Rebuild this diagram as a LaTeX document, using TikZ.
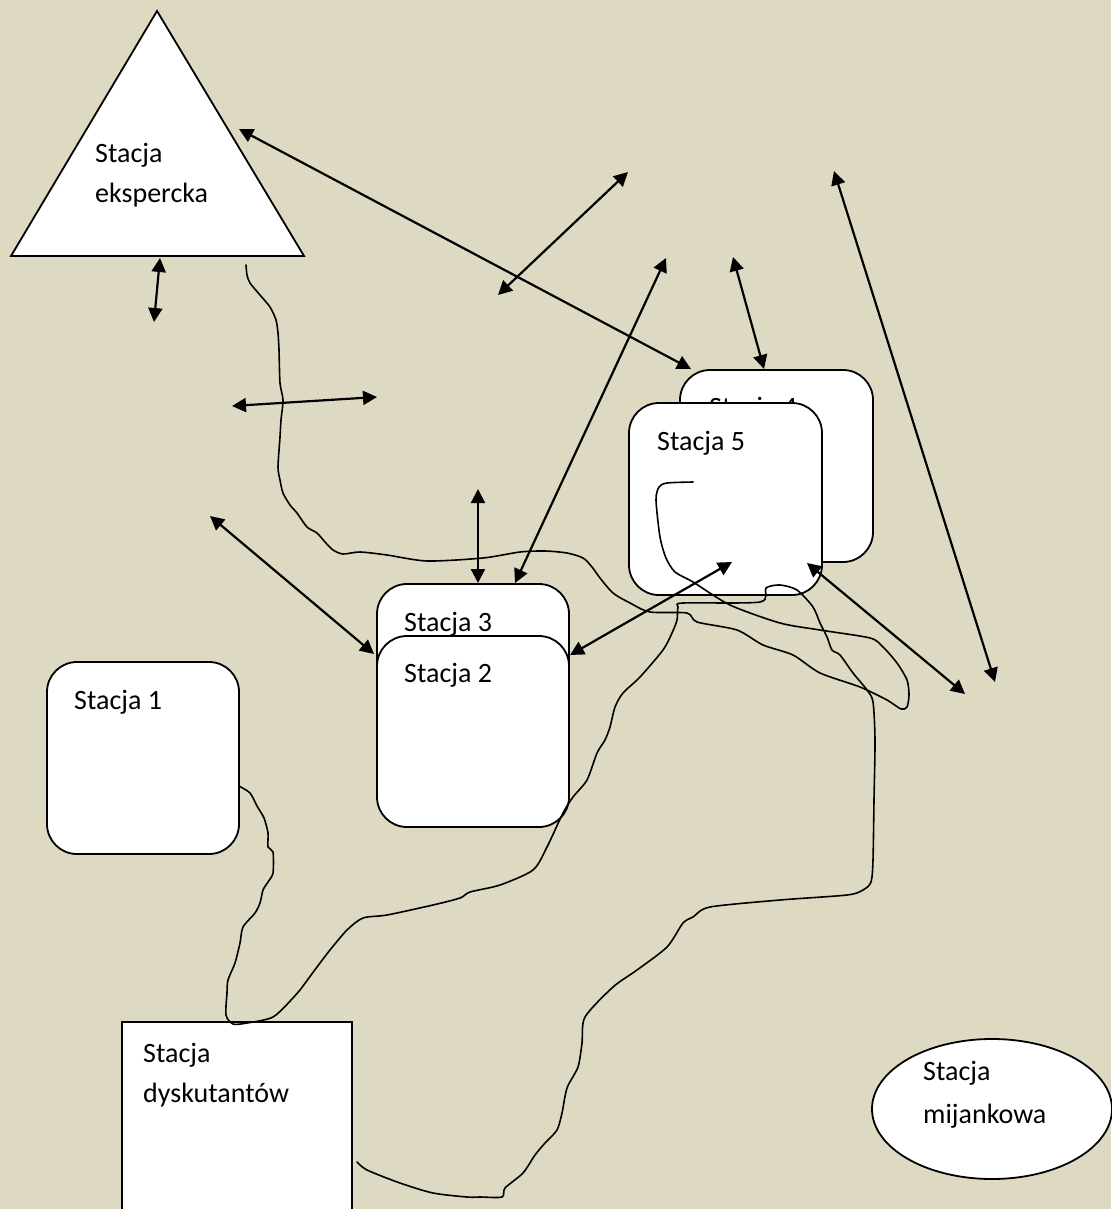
\documentclass[tikz,border=0pt]{standalone}
\usepackage{fontspec}
\setmainfont{Carlito}
\usetikzlibrary{arrows.meta,shapes.geometric}
\definecolor{bgtan}{RGB}{221,217,195}
\begin{document}
\begin{tikzpicture}[x=1pt,y=-1pt,
  stbox/.style={draw=black, line width=1.8pt, fill=white, rounded corners=30pt, inner sep=0pt},
  sqbox/.style={draw=black, line width=1.8pt, fill=white, inner sep=0pt},
  lbl/.style={anchor=base west, inner sep=0pt, font=\fontsize{28}{40}\selectfont},
  dbl/.style={<->, >={Triangle[length=14pt,width=14pt]}, line width=2.2pt},
  wavy/.style={line width=1.6pt, line join=round, line cap=round}]
\useasboundingbox (0,0) rectangle (1111,1209);
\fill[bgtan] (0,0) rectangle (1111,1209);

% triangle: Stacja ekspercka
\coordinate (tA) at (157,11);
\coordinate (tB) at (11,256);
\coordinate (tC) at (304,256);
\draw[fill=white, line width=1.8pt, line join=miter] (tA) -- (tB) -- (tC) -- cycle;
\node[lbl] (tex1) at (95,163) {Stacja};
\node[lbl] (tex2) at (95,203) {ekspercka};

% Stacja 4 and 5
\node[stbox, minimum width=193pt, minimum height=192pt] (s4) at (776.5,466) {};
\node[lbl] (s4t) at (709,416) {Stacja 4};
\node[stbox, minimum width=193pt, minimum height=192pt] (s5) at (725.5,499) {};
\node[lbl] (s5t) at (657,450) {Stacja 5};

% Stacja 3 and 2
\node[stbox, minimum width=192pt, minimum height=216pt] (s3) at (473,692) {};
\node[lbl] (s3t) at (404,631) {Stacja 3};
\node[stbox, minimum width=192pt, minimum height=191pt] (s2) at (473,731.5) {};
\node[lbl] (s2t) at (404,682) {Stacja 2};

% Stacja 1
\node[stbox, minimum width=192pt, minimum height=192pt] (s1) at (143,758) {};
\node[lbl] (s1t) at (74,709) {Stacja 1};

% Stacja dyskutantow
\node[sqbox, minimum width=230pt, minimum height=218pt] (sd) at (237,1131) {};
\node[lbl] (sdt1) at (143,1062) {Stacja};
\node[lbl] (sdt2) at (143,1102) {dyskutantów};

% Stacja mijankowa
\node[ellipse, draw=black, line width=1.8pt, fill=white, inner sep=0pt,
      minimum width=240pt, minimum height=140pt] (sm) at (992,1109) {};
\node[lbl] (smt1) at (923,1080) {Stacja};
\node[lbl] (smt2) at (923,1123) {mijankowa};

% wavy line A: from below the triangle, looping back into Stacja 5
\coordinate (wa0) at (246,265);
\coordinate (wa1) at (693,482);
\draw[wavy] plot[smooth, tension=0.45] coordinates {
 (246,265) (247,275) (250,283) (260,295) (270,307) (276,320) (278,333) (279,350)
 (280,383) (283,400) (281,420) (280,437) (278,467) (280,480) (283,493) (290,505)
 (297,513) (307,527) (317,533) (325,542) (333,550) (343,554) (360,552) (387,555)
 (427,561) (483,558) (520,552) (545,551) (567,553) (583,558) (592,567) (600,578)
 (613,593) (630,603) (650,612) (687,613) (697,622) (737,630) (763,645) (793,655)
 (820,673) (860,687) (887,700) (901,709) (907,707) (909,695) (907,680) (897,663)
 (883,647) (870,638) (820,630) (780,623) (730,605) (693,582) (675,572) (666,558)
 (660,537) (656,500) (659,487) (667,483) (693,482)};

% wavy line B: from Stacja 1 to Stacja dyskutantow, long loop
\coordinate (wb0) at (239,786);
\coordinate (wb1) at (357,1162);
\draw[wavy] plot[smooth, tension=0.45] coordinates {
 (239,786) (250,793) (257,806) (264,818) (268,833) (268,847) (273,852) (273,873)
 (268,882) (263,890) (260,903) (255,913) (243,927) (240,943) (235,963) (228,980)
 (227,993) (226,1015) (233,1024) (247,1023) (273,1017) (293,998) (300,990) (317,967)
 (330,950) (347,930) (363,918) (387,915) (433,905) (460,898) (470,892) (500,885)
 (533,870) (547,847) (563,813) (573,797) (587,780) (597,753) (605,740) (610,727)
 (615,707) (623,693) (640,677) (663,650) (672,633) (677,620) (678,607) (683,603)
 (760,602) (766,588) (780,585) (797,590) (813,607) (820,623) (827,637) (832,650)
 (840,655) (853,673) (867,690) (873,702) (875,740) (874,800) (873,860) (871,882)
 (863,890) (847,895) (780,900) (710,907) (693,917) (683,923) (667,947) (637,970)
 (613,987) (585,1017) (582,1043) (578,1067) (567,1088) (562,1113) (557,1130)
 (545,1143) (535,1155) (523,1173) (505,1188) (502,1197) (480,1197) (467,1197)
 (433,1193) (400,1183) (367,1170) (357,1162)};

% arrow end points
\coordinate (a1a) at (160,258);  \coordinate (a1b) at (154,322);
\coordinate (a2a) at (232,406);  \coordinate (a2b) at (377,397);
\coordinate (a3a) at (239,129);  \coordinate (a3b) at (691,369);
\coordinate (a4a) at (498,295);  \coordinate (a4b) at (628,172);
\coordinate (a5a) at (515,583);  \coordinate (a5b) at (666,258);
\coordinate (a6a) at (478,489);  \coordinate (a6b) at (478,583);
\coordinate (a7a) at (210,516);  \coordinate (a7b) at (374,654);
\coordinate (a8a) at (570,655);  \coordinate (a8b) at (732,562);
\coordinate (a9a) at (733,257);  \coordinate (a9b) at (764,369);
\coordinate (a10a) at (807,563); \coordinate (a10b) at (965,694);
\coordinate (a11a) at (834,171); \coordinate (a11b) at (995,682);

\draw[dbl] (a1a) -- (a1b);
\draw[dbl] (a2a) -- (a2b);
\draw[dbl] (a3a) -- (a3b);
\draw[dbl] (a4a) -- (a4b);
\draw[dbl] (a5a) -- (a5b);
\draw[dbl] (a6a) -- (a6b);
\draw[dbl] (a7a) -- (a7b);
\draw[dbl] (a8a) -- (a8b);
\draw[dbl] (a9a) -- (a9b);
\draw[dbl] (a10a) -- (a10b);
\draw[dbl] (a11a) -- (a11b);
\end{tikzpicture}
\end{document}
